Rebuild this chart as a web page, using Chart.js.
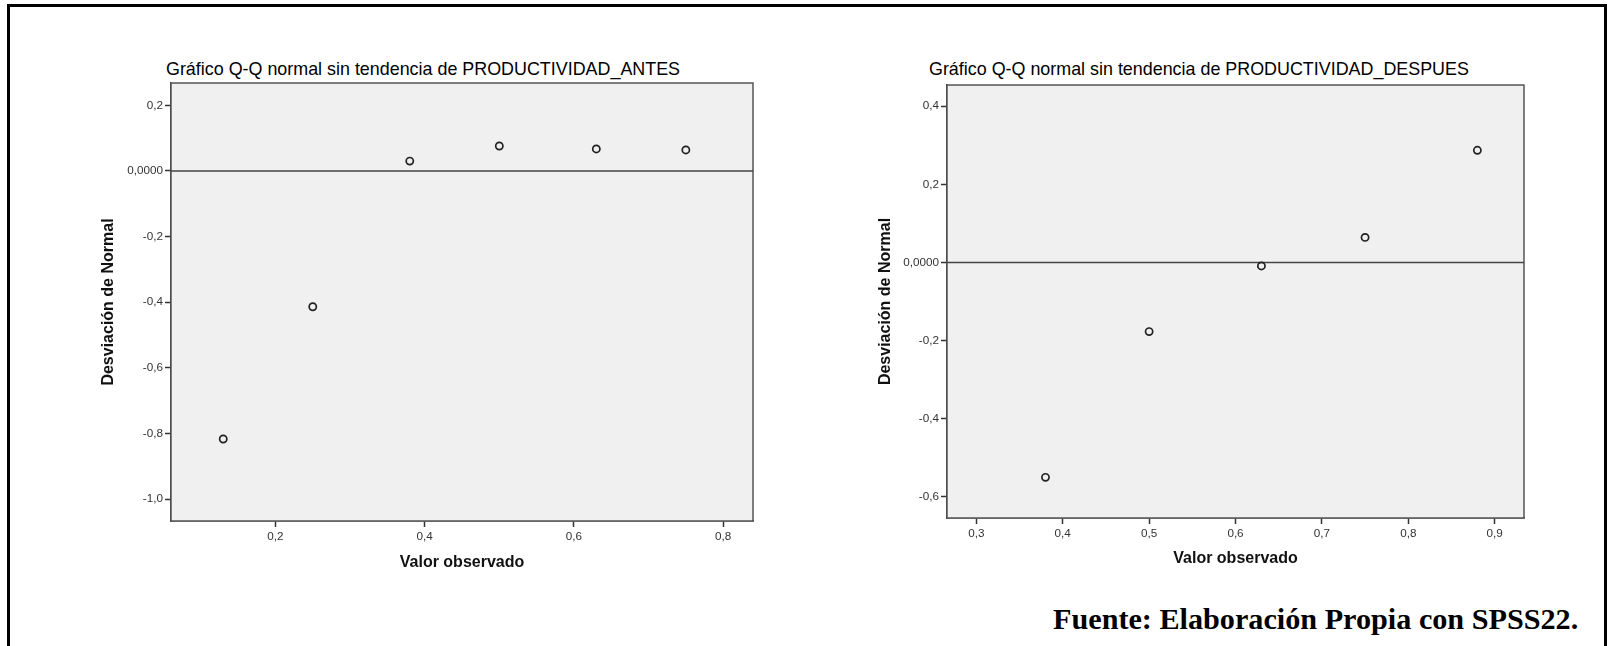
<!DOCTYPE html>
<html>
<head>
<meta charset="utf-8">
<script src="https://cdn.jsdelivr.net/npm/chart.js@4.4.1/dist/chart.umd.min.js"></script>
<style>
  html, body { margin: 0; padding: 0; background: #fff; }
  body { width: 1608px; height: 646px; position: relative; overflow: hidden; }
  .frame { position: absolute; left: 7px; top: 4px; width: 1594px; height: 700px; border: 3px solid #000; }
  .title { position: absolute; font-family: "Liberation Sans", Arial, sans-serif; font-size: 17.9px; line-height: 20px; color: #000; white-space: nowrap; }
  .fuente { position: absolute; left: 1053px; top: 603px; font-family: "Liberation Serif", "Times New Roman", serif; font-weight: bold; font-size: 30.2px; line-height: 33px; white-space: nowrap; }
  canvas { position: absolute; }
</style>
</head>
<body>
<div class="frame"></div>
<div class="title" style="left:166px; top:59px;">Gráfico Q-Q normal sin tendencia de PRODUCTIVIDAD_ANTES</div>
<div class="title" style="left:929px; top:59px;">Gráfico Q-Q normal sin tendencia de PRODUCTIVIDAD_DESPUES</div>
<div style="position:absolute; left:90px; top:74px; width:700px; height:514px;"><canvas id="antes"></canvas></div>
<div style="position:absolute; left:870px; top:76px; width:700px; height:504px;"><canvas id="despues"></canvas></div>
<div class="fuente">Fuente: Elaboración Propia con SPSS22.</div>

<script>
// PRODUCTIVIDAD_ANTES
const antesObs = [0.13, 0.25, 0.38, 0.50, 0.63, 0.75];
const antesDev = [-0.817, -0.414, 0.030, 0.076, 0.067, 0.064];
const antesXRange = [0.06, 0.84];
const antesYRange = [-1.067, 0.268];
const antesXTicks = [0.2, 0.4, 0.6, 0.8];
const antesXLabels = ["0,2", "0,4", "0,6", "0,8"];
const antesYTicks = [-1.0, -0.8, -0.6, -0.4, -0.2, 0, 0.2];
const antesYLabels = ["-1,0", "-0,8", "-0,6", "-0,4", "-0,2", "0,0000", "0,2"];

// PRODUCTIVIDAD_DESPUES
const despuesObs = [0.38, 0.50, 0.63, 0.75, 0.88];
const despuesDev = [-0.550, -0.177, -0.009, 0.064, 0.287];
const despuesXRange = [0.266, 0.934];
const despuesYRange = [-0.654, 0.454];
const despuesXTicks = [0.3, 0.4, 0.5, 0.6, 0.7, 0.8, 0.9];
const despuesXLabels = ["0,3", "0,4", "0,5", "0,6", "0,7", "0,8", "0,9"];
const despuesYTicks = [-0.6, -0.4, -0.2, 0, 0.2, 0.4];
const despuesYLabels = ["-0,6", "-0,4", "-0,2", "0,0000", "0,2", "0,4"];

const SANS = "'Liberation Sans', Arial, sans-serif";

// gray plot background + frame
const plotFrame = {
    id: "plotFrame",
    beforeDatasetsDraw(chart) {
        const a = chart.chartArea;
        const ctx = chart.ctx;
        ctx.save();
        ctx.fillStyle = "#f0f0f0";
        ctx.fillRect(a.left, a.top, a.right - a.left, a.bottom - a.top);
        ctx.strokeStyle = "#555";
        ctx.lineWidth = 1.5;
        ctx.strokeRect(a.left, a.top, a.right - a.left, a.bottom - a.top);
        ctx.restore();
    }
};

function makeChart(id, obs, dev, xRange, yRange, xTicks, xLabels, yTicks, yLabels, g) {
    const points = obs.map((v, i) => ({ x: v, y: dev[i] }));
    const zeroLine = [{ x: xRange[0], y: 0 }, { x: xRange[1], y: 0 }];

    return new Chart(document.getElementById(id), {
        type: "scatter",
        data: {
            datasets: [
                {
                    data: points,
                    pointRadius: 3.6,
                    pointBorderWidth: 1.7,
                    pointBorderColor: "#222",
                    pointBackgroundColor: "rgba(0,0,0,0)",
                    pointHoverRadius: 3.6
                },
                {
                    type: "line",
                    data: zeroLine,
                    borderColor: "#444",
                    borderWidth: 1.5,
                    pointRadius: 0,
                    fill: false
                }
            ]
        },
        options: {
            responsive: true,
            maintainAspectRatio: false,
            animation: false,
            layout: { padding: g.padding },
            plugins: {
                legend: { display: false },
                tooltip: { enabled: false }
            },
            scales: {
                x: {
                    type: "linear",
                    min: xRange[0],
                    max: xRange[1],
                    afterBuildTicks: axis => { axis.ticks = xTicks.map(v => ({ value: v })); },
                    afterFit: axis => { axis.height = g.xHeight; },
                    grid: { drawOnChartArea: false, tickLength: 6, color: "#333", tickWidth: 1.5 },
                    border: { display: true, color: "#333", width: 1.5 },
                    ticks: {
                        padding: 3,
                        maxRotation: 0,
                        color: "#333",
                        font: { family: SANS, size: 11.7 },
                        callback: (v, i) => xLabels[i]
                    },
                    title: {
                        display: true,
                        text: "Valor observado",
                        color: "#111",
                        font: { family: SANS, size: 16, weight: "bold" },
                        padding: { top: 4, bottom: g.xTitlePad }
                    }
                },
                y: {
                    type: "linear",
                    min: yRange[0],
                    max: yRange[1],
                    afterBuildTicks: axis => { axis.ticks = yTicks.map(v => ({ value: v })); },
                    afterFit: axis => { axis.width = g.yWidth; },
                    grid: { drawOnChartArea: false, tickLength: 6, color: "#333", tickWidth: 1.5 },
                    border: { display: true, color: "#333", width: 1.5 },
                    ticks: {
                        padding: 2,
                        color: "#333",
                        font: { family: SANS, size: 11.7 },
                        callback: (v, i) => yLabels[i]
                    },
                    title: {
                        display: true,
                        text: "Desviación de Normal",
                        color: "#111",
                        font: { family: SANS, size: 16, weight: "bold" },
                        padding: { top: g.yTitlePad, bottom: 4 }
                    }
                }
            }
        },
        plugins: [plotFrame]
    });
}

makeChart("antes", antesObs, antesDev, antesXRange, antesYRange,
    antesXTicks, antesXLabels, antesYTicks, antesYLabels,
    { padding: { top: 5, right: 37, bottom: 0, left: 0 }, xHeight: 67, yWidth: 81, xTitlePad: 15.4, yTitlePad: 9.4 });

makeChart("despues", despuesObs, despuesDev, despuesXRange, despuesYRange,
    despuesXTicks, despuesXLabels, despuesYTicks, despuesYLabels,
    { padding: { top: 5, right: 46, bottom: 0, left: 0 }, xHeight: 62, yWidth: 77, xTitlePad: 11.4, yTitlePad: 6.4 });
</script>
</body>
</html>
